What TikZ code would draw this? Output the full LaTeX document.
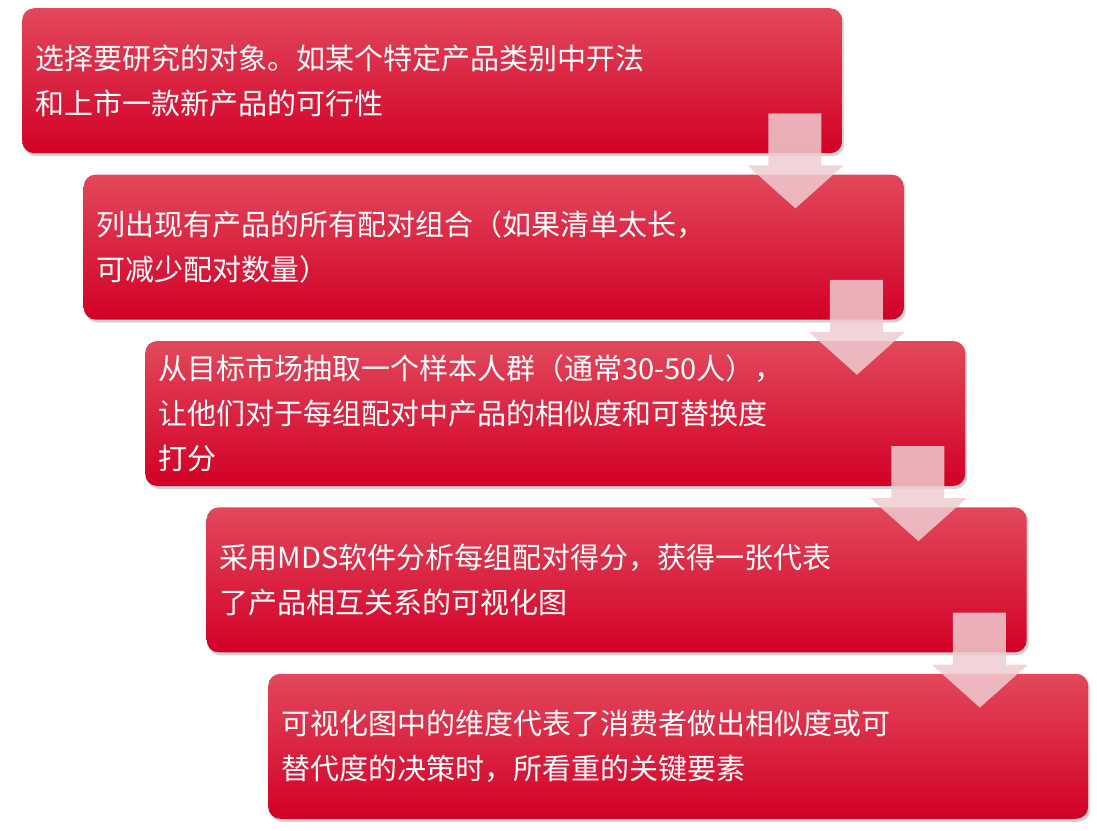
\documentclass[tikz,border=0pt]{standalone}
\usepackage{fontspec}
\setmainfont{Noto Sans CJK SC}
\usepackage{xcolor}
\usetikzlibrary{positioning, shadows}

\definecolor{boxtop}{HTML}{E2485C}
\definecolor{boxmid}{HTML}{E00A34}
\definecolor{boxbot}{HTML}{D20026}
\definecolor{arrowpink}{HTML}{EFCCD0}

\begin{document}
\begin{tikzpicture}[
    stepbox/.style={rectangle, rounded corners=12pt, minimum width=820pt, minimum height=145pt,
        text width=794pt, inner xsep=13pt, align=left, text=white,
        top color=boxtop, middle color=boxmid, bottom color=boxbot,
        drop shadow={shadow xshift=2pt, shadow yshift=-3pt, opacity=0.35},
        font=\fontsize{29pt}{45pt}\selectfont},
    blockarrow/.style={fill=arrowpink, fill opacity=0.85}
]
\useasboundingbox (0,0) rectangle (1097pt,-830pt);

% Steps
\node (s1) [stepbox, anchor=north west] at (22pt,-8pt) {选择要研究的对象。如某个特定产品类别中开法\\和上市一款新产品的可行性};
\node (s2) [stepbox, below=21pt of s1.south west, anchor=north west, xshift=61.5pt] {列出现有产品的所有配对组合（如果清单太长，\\可减少配对数量）};
\node (s3) [stepbox, below=21pt of s2.south west, anchor=north west, xshift=61.5pt] {从目标市场抽取一个样本人群（通常30-50人），\\让他们对于每组配对中产品的相似度和可替换度\\打分};
\node (s4) [stepbox, below=21pt of s3.south west, anchor=north west, xshift=61.5pt] {采用MDS软件分析每组配对得分，获得一张代表\\了产品相互关系的可视化图};
\node (s5) [stepbox, below=21pt of s4.south west, anchor=north west, xshift=61.5pt] {可视化图中的维度代表了消费者做出相似度或可\\替代度的决策时，所看重的关键要素};

% Arrows
\foreach \a in {s1,s2,s3,s4}
  \fill[blockarrow] ([shift={(-74pt,40pt)}]\a.south east) -- ([shift={(-21pt,40pt)}]\a.south east)
    -- ([shift={(-21pt,-12pt)}]\a.south east) -- ([shift={(1pt,-12pt)}]\a.south east)
    -- ([shift={(-47pt,-55pt)}]\a.south east) -- ([shift={(-95pt,-12pt)}]\a.south east)
    -- ([shift={(-74pt,-12pt)}]\a.south east) -- cycle;

\end{tikzpicture}
\end{document}
